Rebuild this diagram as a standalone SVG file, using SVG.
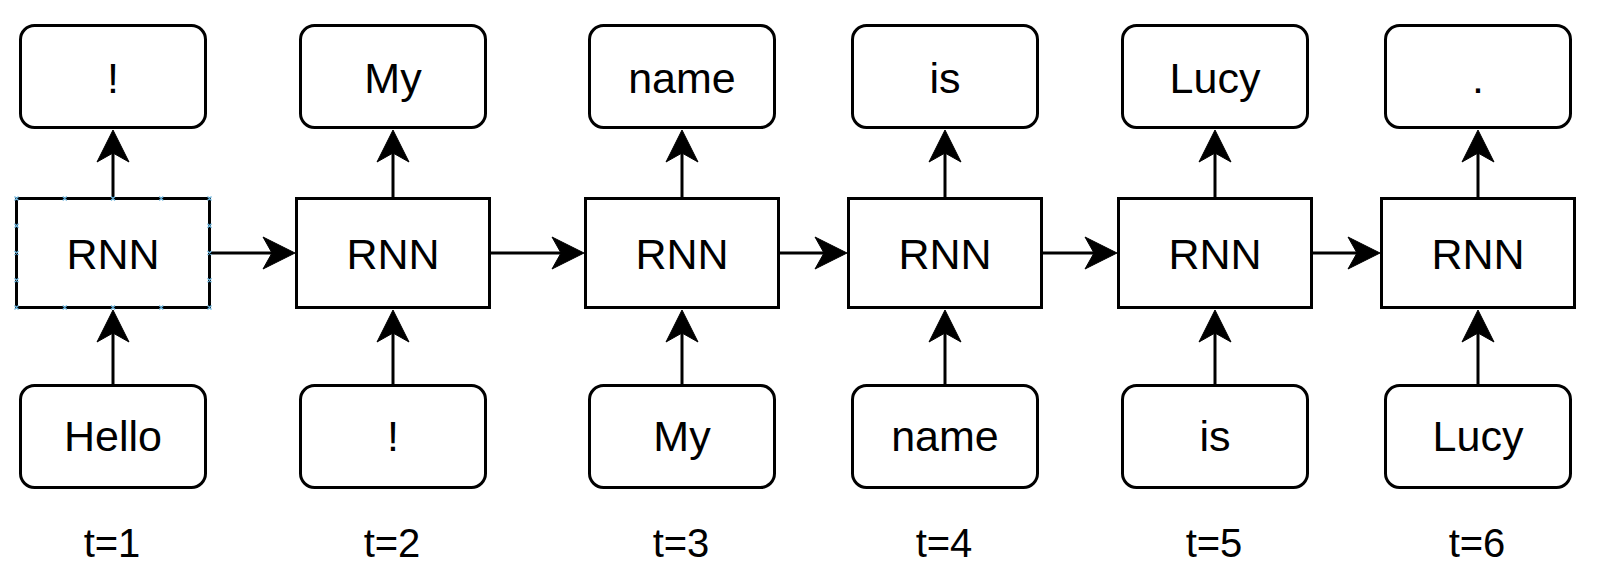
<svg xmlns="http://www.w3.org/2000/svg" width="1601" height="579" viewBox="0 0 1601 579">
<style>
.box{fill:#fff;stroke:#000;stroke-width:3}
.lbl{font-family:"Liberation Sans",Arial,sans-serif;font-size:43px;fill:#000;text-anchor:middle}
.t{font-family:"Liberation Sans",Arial,sans-serif;font-size:40px;fill:#000;text-anchor:middle}
.edge{stroke:#000;stroke-width:3;fill:none}
.ah{fill:#000;stroke:#000;stroke-width:1}
.hd{stroke:#6cb4dc;stroke-width:1.2;fill:none}
</style>
<defs>
<path id="hr" class="ah" d="M0,0 L-32,-16 L-23,0 L-32,16 Z"/>
<path id="hu" class="ah" d="M0,0 L-16,32 L0,23 L16,32 Z"/>
</defs>
<rect width="1601" height="579" fill="#fff"/>
<g id="connectors">
  <line class="edge" x1="113" y1="384" x2="113" y2="330"/>
  <line class="edge" x1="393" y1="384" x2="393" y2="330"/>
  <line class="edge" x1="682" y1="384" x2="682" y2="330"/>
  <line class="edge" x1="945" y1="384" x2="945" y2="330"/>
  <line class="edge" x1="1215" y1="384" x2="1215" y2="330"/>
  <line class="edge" x1="1478" y1="384" x2="1478" y2="330"/>
  <use href="#hu" x="113" y="310"/>
  <use href="#hu" x="393" y="310"/>
  <use href="#hu" x="682" y="310"/>
  <use href="#hu" x="945" y="310"/>
  <use href="#hu" x="1215" y="310"/>
  <use href="#hu" x="1478" y="310"/>
  <line class="edge" x1="113" y1="197" x2="113" y2="150"/>
  <line class="edge" x1="393" y1="197" x2="393" y2="150"/>
  <line class="edge" x1="682" y1="197" x2="682" y2="150"/>
  <line class="edge" x1="945" y1="197" x2="945" y2="150"/>
  <line class="edge" x1="1215" y1="197" x2="1215" y2="150"/>
  <line class="edge" x1="1478" y1="197" x2="1478" y2="150"/>
  <use href="#hu" x="113" y="130"/>
  <use href="#hu" x="393" y="130"/>
  <use href="#hu" x="682" y="130"/>
  <use href="#hu" x="945" y="130"/>
  <use href="#hu" x="1215" y="130"/>
  <use href="#hu" x="1478" y="130"/>
  <line class="edge" x1="210" y1="253" x2="275" y2="253"/>
  <line class="edge" x1="490" y1="253" x2="564" y2="253"/>
  <line class="edge" x1="776" y1="253" x2="827" y2="253"/>
  <line class="edge" x1="1041" y1="253" x2="1097" y2="253"/>
  <line class="edge" x1="1311" y1="253" x2="1360" y2="253"/>
  <use href="#hr" x="295" y="253"/>
  <use href="#hr" x="584" y="253"/>
  <use href="#hr" x="847" y="253"/>
  <use href="#hr" x="1117" y="253"/>
  <use href="#hr" x="1380" y="253"/>
</g>
<g id="out1"><rect class="box" x="20.5" y="25.5" width="185" height="102" rx="14"/><text class="lbl" x="113" y="93">!</text></g>
<g id="out2"><rect class="box" x="300.5" y="25.5" width="185" height="102" rx="14"/><text class="lbl" x="393" y="93">My</text></g>
<g id="out3"><rect class="box" x="589.5" y="25.5" width="185" height="102" rx="14"/><text class="lbl" x="682" y="93">name</text></g>
<g id="out4"><rect class="box" x="852.5" y="25.5" width="185" height="102" rx="14"/><text class="lbl" x="945" y="93">is</text></g>
<g id="out5"><rect class="box" x="1122.5" y="25.5" width="185" height="102" rx="14"/><text class="lbl" x="1215" y="93">Lucy</text></g>
<g id="out6"><rect class="box" x="1385.5" y="25.5" width="185" height="102" rx="14"/><text class="lbl" x="1478" y="93">.</text></g>
<g id="rnn1"><rect class="box" x="16.5" y="198.5" width="193" height="109"/><text class="lbl" x="113" y="269">RNN</text>
  <path class="hd" d="M14.5,196.5l4,4m0,-4l-4,4 M62.75,196.5l4,4m0,-4l-4,4 M111,196.5l4,4m0,-4l-4,4 M159.25,196.5l4,4m0,-4l-4,4 M207.5,196.5l4,4m0,-4l-4,4 M14.5,305.5l4,4m0,-4l-4,4 M62.75,305.5l4,4m0,-4l-4,4 M111,305.5l4,4m0,-4l-4,4 M159.25,305.5l4,4m0,-4l-4,4 M207.5,305.5l4,4m0,-4l-4,4 M14.5,223.75l4,4m0,-4l-4,4 M14.5,251l4,4m0,-4l-4,4 M14.5,278.25l4,4m0,-4l-4,4 M207.5,223.75l4,4m0,-4l-4,4 M207.5,251l4,4m0,-4l-4,4 M207.5,278.25l4,4m0,-4l-4,4"/></g>
<g id="rnn2"><rect class="box" x="296.5" y="198.5" width="193" height="109"/><text class="lbl" x="393" y="269">RNN</text></g>
<g id="rnn3"><rect class="box" x="585.5" y="198.5" width="193" height="109"/><text class="lbl" x="682" y="269">RNN</text></g>
<g id="rnn4"><rect class="box" x="848.5" y="198.5" width="193" height="109"/><text class="lbl" x="945" y="269">RNN</text></g>
<g id="rnn5"><rect class="box" x="1118.5" y="198.5" width="193" height="109"/><text class="lbl" x="1215" y="269">RNN</text></g>
<g id="rnn6"><rect class="box" x="1381.5" y="198.5" width="193" height="109"/><text class="lbl" x="1478" y="269">RNN</text></g>
<g id="in1"><rect class="box" x="20.5" y="385.5" width="185" height="102" rx="14"/><text class="lbl" x="113" y="451">Hello</text></g>
<g id="in2"><rect class="box" x="300.5" y="385.5" width="185" height="102" rx="14"/><text class="lbl" x="393" y="451">!</text></g>
<g id="in3"><rect class="box" x="589.5" y="385.5" width="185" height="102" rx="14"/><text class="lbl" x="682" y="451">My</text></g>
<g id="in4"><rect class="box" x="852.5" y="385.5" width="185" height="102" rx="14"/><text class="lbl" x="945" y="451">name</text></g>
<g id="in5"><rect class="box" x="1122.5" y="385.5" width="185" height="102" rx="14"/><text class="lbl" x="1215" y="451">is</text></g>
<g id="in6"><rect class="box" x="1385.5" y="385.5" width="185" height="102" rx="14"/><text class="lbl" x="1478" y="451">Lucy</text></g>
<g id="times">
  <text class="t" x="112" y="557">t=1</text>
  <text class="t" x="392" y="557">t=2</text>
  <text class="t" x="681" y="557">t=3</text>
  <text class="t" x="944" y="557">t=4</text>
  <text class="t" x="1214" y="557">t=5</text>
  <text class="t" x="1477" y="557">t=6</text>
</g>
</svg>
